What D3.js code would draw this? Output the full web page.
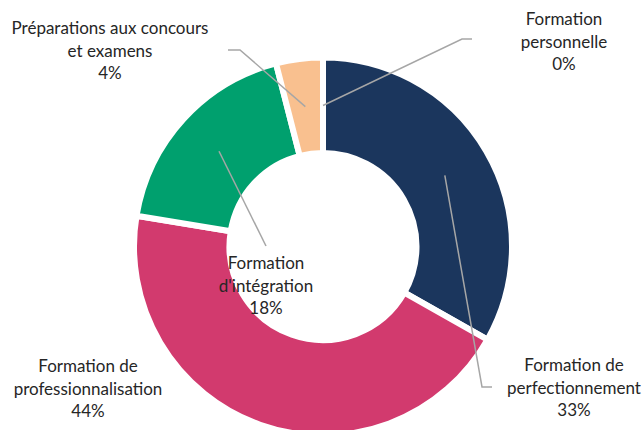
<!DOCTYPE html>
<html>
<head>
<meta charset="utf-8">
<script src="https://cdn.jsdelivr.net/npm/d3@7"></script>
<style>
  body { margin: 0; background: #fff; }
  #chart { width: 644px; height: 430px; }
</style>
</head>
<body>
<div id="chart"></div>
<script>
// categories, in the order Excel draws them (clockwise from 12 o'clock)
const categories = [
  "Formation de perfectionnement",
  "Formation de professionnalisation",
  "Formation d'intégration",
  "Préparations aux concours et examens",
  "Formation personnelle"
];
const values = [33.2, 44.4, 18.4, 4.0, 0];
const colors = ["#1b365d", "#d23a6e", "#00a06e", "#f9c08f", "#7f7f7f"];
// label text lines (the percent is added from values)
const labelLines = [
  ["Formation de", "perfectionnement"],
  ["Formation de", "professionnalisation"],
  ["Formation", "d'intégration"],
  ["Préparations aux concours", "et examens"],
  ["Formation", "personnelle"]
];

// label placement: centre of the text block + leader line elbow
const labelPos = [
  {x: 574, y: 365, line: [[482, 387], [492, 387]]},
  {x: 88,  y: 366, line: null},
  {x: 266, y: 263, line: [[266, 246]]},
  {x: 110, y: 28,  line: [[240, 50], [228, 50]]},
  {x: 564, y: 19,  line: [[462, 39], [472, 39]]}
];

const width = 644, height = 430;
const cx = 323, cy = 246.5;
const outerR = 189, innerR = 93.5;

const svg = d3.select("#chart")
  .append("svg")
  .attr("width", width)
  .attr("height", height);

const g = svg.append("g")
  .attr("transform", "translate(" + cx + "," + cy + ")");

const pie = d3.pie().sort(null).value(d => d);
const arcs = pie(values);

const arc = d3.arc().innerRadius(innerR).outerRadius(outerR);
const midArc = d3.arc().innerRadius(141).outerRadius(141);

// slices
g.selectAll("path.slice")
  .data(arcs)
  .enter()
  .append("path")
  .classed("slice", true)
  .attr("d", arc)
  .attr("fill", (d, i) => colors[i])
  .attr("stroke", "#fff")
  .attr("stroke-width", 6)
  .attr("stroke-linejoin", "miter");

// leader lines
arcs.forEach((d, i) => {
  const pos = labelPos[i];
  if (!pos.line) return;
  const c = midArc.centroid(d);
  const pts = [[c[0] + cx, c[1] + cy]].concat(pos.line);
  svg.append("path")
    .attr("d", d3.line()(pts))
    .attr("fill", "none")
    .attr("stroke", "#a6a6a6")
    .attr("stroke-width", 1.5);
});

// labels
arcs.forEach((d, i) => {
  const pos = labelPos[i];
  const lines = labelLines[i].concat([Math.round(values[i]) + "%"]);
  const t = svg.append("text")
    .attr("text-anchor", "middle")
    .attr("font-family", "Lato, 'Open Sans', sans-serif")
    .attr("font-size", "17px")
    .attr("fill", "#262626");
  lines.forEach((s, j) => {
    t.append("tspan")
      .attr("x", pos.x)
      .attr("y", pos.y + j * 22.7)
      .attr("dy", "0.35em")
      .text(s);
  });
});
</script>
</body>
</html>
